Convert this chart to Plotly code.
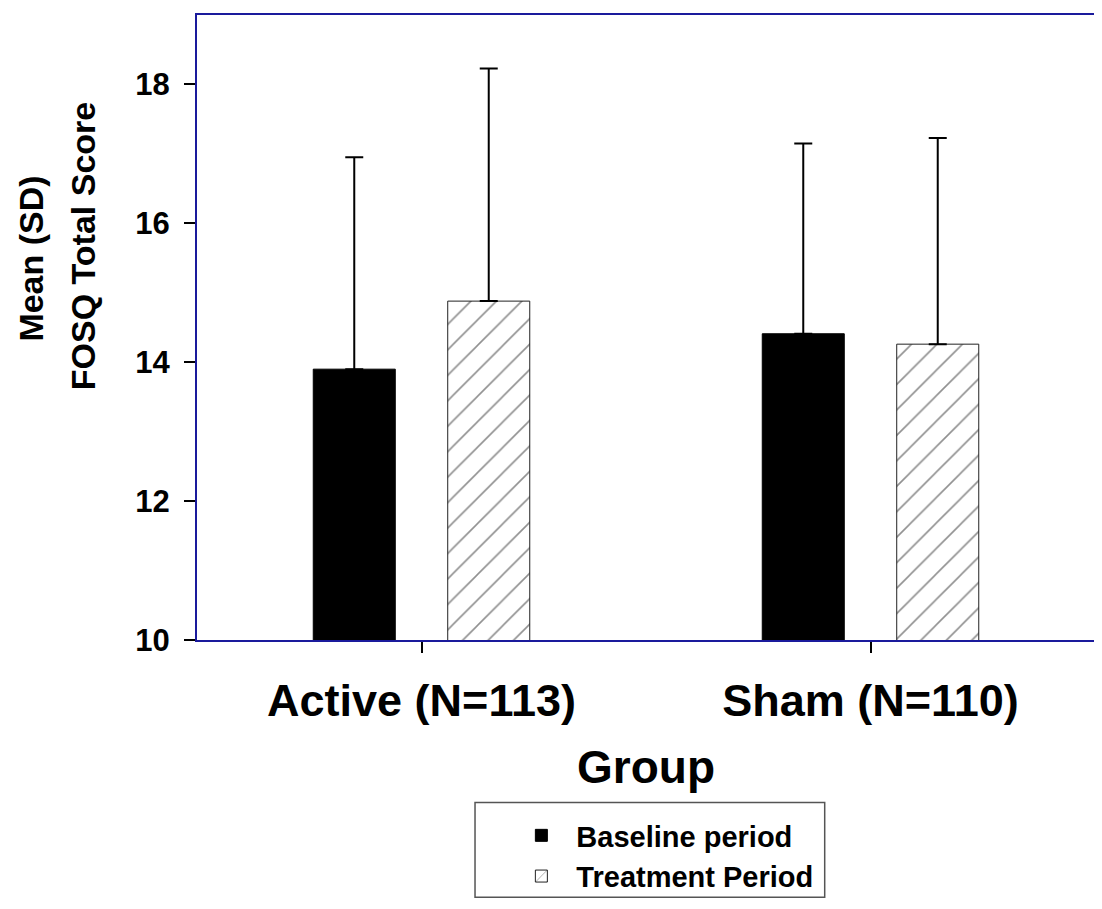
import plotly.graph_objects as go

groups = ["Active (N=113)", "Sham (N=110)"]
baseline_mean = [13.9, 14.41]
baseline_sd = [3.05, 2.74]
treatment_mean = [14.88, 14.26]
treatment_sd = [3.35, 2.97]
y_ticks = [10, 12, 14, 16, 18]

FONT = "Liberation Sans, Arial, sans-serif"
NAVY = "#1a1a9c"

fig = go.Figure()
fig.add_trace(go.Bar(
    name="Baseline period", x=groups, y=baseline_mean,
    marker=dict(color="black", line=dict(color="black", width=1)),
    error_y=dict(type="data", array=baseline_sd, arrayminus=[0, 0], symmetric=False,
                 color="black", thickness=2, width=9),
))
fig.add_trace(go.Bar(
    name="Treatment Period", x=groups, y=treatment_mean,
    marker=dict(color="white", line=dict(color="#222222", width=1),
                pattern=dict(shape="/", fgcolor="#222222", bgcolor="white", size=18, solidity=0.09)),
    error_y=dict(type="data", array=treatment_sd, arrayminus=[0, 0], symmetric=False,
                 color="black", thickness=2, width=9),
))

fig.update_layout(
    width=1094, height=901,
    margin=dict(l=189, r=7, t=5, b=269),
    paper_bgcolor="white", plot_bgcolor="white",
    barmode="group", bargap=0.401, bargroupgap=0.39,
    font=dict(family=FONT, color="black", weight="bold"),
    showlegend=True,
    legend=dict(x=0.3445, y=-0.272, xanchor="left", yanchor="top",
                font=dict(size=29, family=FONT, weight="bold"),
                bgcolor="rgba(0,0,0,0)", borderwidth=0, tracegroupgap=0,
                itemwidth=60),
)
fig.update_yaxes(
    range=[10, 19], tickvals=y_ticks, ticks="outside", ticklen=11, tickwidth=1.5, tickcolor="black",
    showline=True, linecolor=NAVY, linewidth=2, mirror=True, showgrid=False, zeroline=False,
    tickfont=dict(size=31, family=FONT, weight="bold"), ticklabelstandoff=8,
)
fig.update_xaxes(
    range=[-0.5, 1.5], ticks="outside", ticklen=11, tickwidth=1.5, tickcolor="black",
    showline=True, linecolor=NAVY, linewidth=2, mirror=True, showgrid=False,
    tickfont=dict(size=45, family=FONT, weight="bold"), ticklabelstandoff=9,
    title=dict(text="Group", font=dict(size=46, family=FONT, weight="bold"), standoff=26),
)

fig.add_annotation(text="Mean (SD)", xref="paper", yref="paper", x=-0.185, y=0.61,
                   textangle=-90, showarrow=False, xanchor="center", yanchor="middle",
                   font=dict(size=34, family=FONT, weight="bold"))
fig.add_annotation(text="FOSQ Total Score", xref="paper", yref="paper", x=-0.127, y=0.63,
                   textangle=-90, showarrow=False, xanchor="center", yanchor="middle",
                   font=dict(size=34, family=FONT, weight="bold"))

fig.add_shape(type="rect", xref="paper", yref="paper", x0=0.3096, x1=0.699, y0=-0.26, y1=-0.4115,
              line=dict(color="#555555", width=1.5), fillcolor="rgba(0,0,0,0)")

fig.write_html("out.html")
